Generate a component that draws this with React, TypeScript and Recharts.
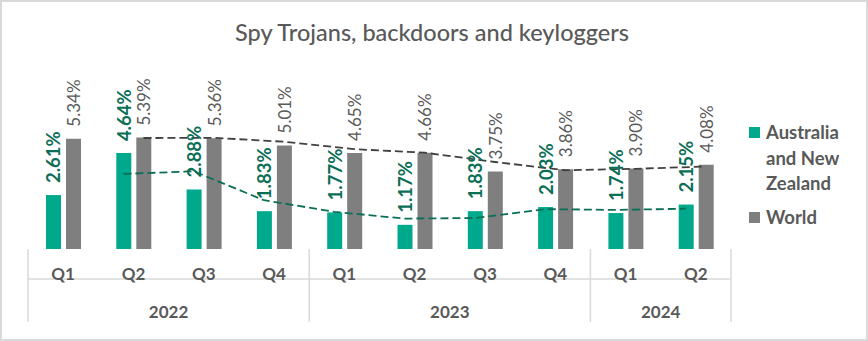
import { Bar, ComposedChart, LabelList, Line, XAxis, YAxis } from "recharts";

const quarters = ["Q1", "Q2", "Q3", "Q4", "Q1", "Q2", "Q3", "Q4", "Q1", "Q2"];
const years = ["2022", "2022", "2022", "2022", "2023", "2023", "2023", "2023", "2024", "2024"];
const anzValues = [2.61, 4.64, 2.88, 1.83, 1.77, 1.17, 1.83, 2.03, 1.74, 2.15];
const worldValues = [5.34, 5.39, 5.36, 5.01, 4.65, 4.66, 3.75, 3.86, 3.9, 4.08];
// 2-period moving average trendlines
const anzTrend = [null, 3.63, 3.76, 2.36, 1.8, 1.47, 1.5, 1.93, 1.89, 1.95];
const worldTrend = [null, 5.37, 5.38, 5.19, 4.83, 4.66, 4.21, 3.81, 3.88, 3.99];
const legendItems = ["Australia and New Zealand", "World"];

const W = 868;
const H = 341;
const PLOT_LEFT = 28;
const PLOT_RIGHT = 731;
const PLOT_TOP = 125;
const BASELINE = 249;
const BAND = (PLOT_RIGHT - PLOT_LEFT) / quarters.length;
const SHIFT = 10; // half of barSize + half of barGap

const ANZ_COLOR = "#00A88C";
const ANZ_TEXT = "#0B6E56";
const WORLD_COLOR = "#7F7F7F";
const TEXT = "#595959";
const GRID = "#D9D9D9";
const FONT = "Lato, 'Open Sans', sans-serif";

const data = quarters.map((q, i) => ({
  key: `${years[i]} ${q}`,
  anz: anzValues[i],
  world: worldValues[i],
  anzTrend: anzTrend[i],
  worldTrend: worldTrend[i],
}));

function makeLabel(color: string, bold: boolean, size: number) {
  return (props: any) => {
    const { x, y, width, value } = props;
    const cx = Number(x) + Number(width) / 2;
    const sy = Number(y) - 12;
    return (
      <text
        x={cx}
        y={sy}
        transform={`rotate(-90 ${cx} ${sy})`}
        textAnchor="start"
        dominantBaseline="central"
        fill={color}
        fontFamily={FONT}
        fontWeight={bold ? 700 : 400}
        fontSize={size}
      >
        {Number(value).toFixed(2)}%
      </text>
    );
  };
}

function QuarterTick(props: any) {
  const { x, index } = props;
  const i = Number(index);
  const left = x - BAND / 2;
  const isStart = i === 0 || years[i] !== years[i - 1];
  const isLast = i === quarters.length - 1;
  let yearLabel = null;
  if (isStart) {
    const count = years.filter((y) => y === years[i]).length;
    yearLabel = (
      <text
        x={left + (count * BAND) / 2}
        y={BASELINE + 62}
        textAnchor="middle"
        dominantBaseline="central"
        fill={TEXT}
        fontFamily={FONT}
        fontWeight={700}
        fontSize={17}
      >
        {years[i]}
      </text>
    );
  }
  return (
    <g>
      <text
        x={x}
        y={BASELINE + 24}
        textAnchor="middle"
        dominantBaseline="central"
        fill={TEXT}
        fontFamily={FONT}
        fontWeight={700}
        fontSize={17}
      >
        {quarters[i]}
      </text>
      {isStart && <line x1={left} x2={left} y1={BASELINE} y2={BASELINE + 73} stroke={GRID} strokeWidth={1.5} />}
      {isLast && (
        <line x1={left + BAND} x2={left + BAND} y1={BASELINE} y2={BASELINE + 73} stroke={GRID} strokeWidth={1.5} />
      )}
      {yearLabel}
    </g>
  );
}

function LegendBox() {
  const colors = [ANZ_COLOR, WORLD_COLOR];
  return (
    <div
      style={{
        position: "absolute",
        left: 749,
        top: 120,
        fontFamily: FONT,
        fontWeight: 700,
        fontSize: 18.5,
        color: TEXT,
        lineHeight: "25.5px",
      }}
    >
      {legendItems.map((label, i) => (
        <div key={label} style={{ display: "flex", alignItems: "flex-start", marginBottom: 8 }}>
          <span
            style={{
              display: "inline-block",
              width: 11,
              height: 11,
              background: colors[i],
              marginTop: 7,
              marginRight: 6,
              flex: "none",
            }}
          />
          <span style={{ width: 92 }}>{label}</span>
        </div>
      ))}
    </div>
  );
}

export default function App() {
  return (
    <div style={{ position: "absolute", left: 0, top: 0, width: W, height: H, background: "#fff" }}>
      <div
        style={{
          position: "absolute",
          left: 0,
          top: 18,
          width: W - 4,
          textAlign: "center",
          fontFamily: FONT,
          fontSize: 23.5,
          color: TEXT,
          fontWeight: 500,
        }}
      >
        Spy Trojans, backdoors and keyloggers
      </div>
      <div style={{ position: "absolute", left: 0, top: 0 }}>
        <ComposedChart
          width={W}
          height={H}
          data={data}
          barSize={15}
          barGap={5}
          margin={{ top: PLOT_TOP, right: W - PLOT_RIGHT, left: PLOT_LEFT, bottom: 0 }}
        >
          <XAxis
            dataKey="key"
            xAxisId="main"
            height={H - BASELINE}
            axisLine={{ stroke: GRID, strokeWidth: 1.5 }}
            tickLine={false}
            interval={0}
            tick={<QuarterTick />}
          />
          <XAxis dataKey="key" xAxisId="anzShift" hide padding={{ left: -SHIFT, right: SHIFT }} />
          <XAxis dataKey="key" xAxisId="worldShift" hide padding={{ left: SHIFT, right: -SHIFT }} />
          <YAxis hide domain={[0, 6]} />
          <Bar dataKey="anz" xAxisId="main" fill={ANZ_COLOR} isAnimationActive={false} name="Australia and New Zealand">
            <LabelList dataKey="anz" content={makeLabel(ANZ_TEXT, true, 18.5)} />
          </Bar>
          <Bar dataKey="world" xAxisId="main" fill={WORLD_COLOR} isAnimationActive={false} name="World">
            <LabelList dataKey="world" content={makeLabel(TEXT, false, 17)} />
          </Bar>
          <Line
            dataKey="worldTrend"
            xAxisId="worldShift"
            type="linear"
            stroke="#404040"
            strokeWidth={1.8}
            strokeDasharray="8 4"
            dot={false}
            activeDot={false}
            isAnimationActive={false}
          />
          <Line
            dataKey="anzTrend"
            xAxisId="anzShift"
            type="linear"
            stroke="#0B6E56"
            strokeWidth={1.8}
            strokeDasharray="8 4"
            dot={false}
            activeDot={false}
            isAnimationActive={false}
          />
        </ComposedChart>
      </div>
      <LegendBox />
      <div
        style={{
          position: "absolute",
          left: 0,
          top: 0,
          width: W,
          height: H,
          boxSizing: "border-box",
          border: `2px solid ${GRID}`,
          pointerEvents: "none",
        }}
      />
    </div>
  );
}
